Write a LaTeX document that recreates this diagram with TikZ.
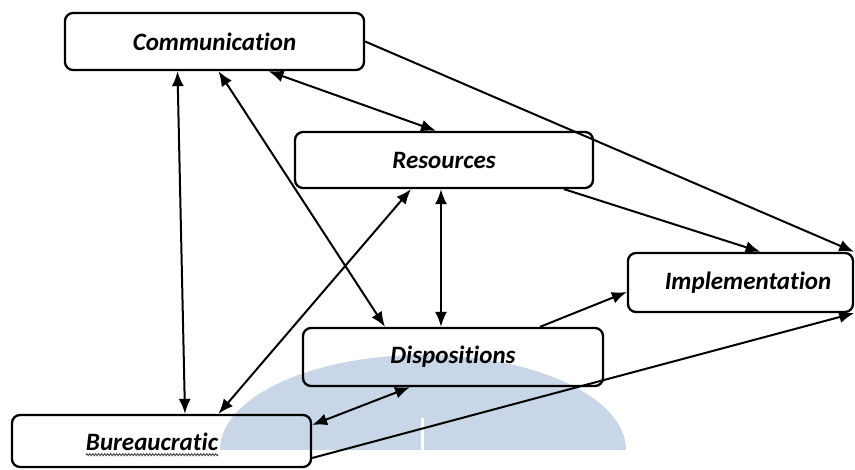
\documentclass[tikz,border=0pt]{standalone}
\usepackage{fontspec}
\setmainfont[Ligatures=NoCommon]{Carlito}
\usetikzlibrary{arrows.meta,decorations.pathmorphing}
\definecolor{wmblue}{RGB}{201,214,231}
\begin{document}
\begin{tikzpicture}[x=1pt,y=-1pt,
  >={Latex[length=15pt,width=12pt]},
  box/.style={draw,line width=2.3pt,rounded corners=8pt,inner sep=0pt,
    font=\fontsize{25}{30}\selectfont\bfseries\itshape},
  lbl/.style={inner sep=0pt,font=\fontsize{25}{30}\selectfont\bfseries\itshape},
  conn/.style={line width=2pt},
  wm/.style={fill=wmblue}]
\useasboundingbox (0,0) rectangle (855,470);
% watermark
\fill[wm] (220,450) arc[start angle=180,end angle=360,x radius=203,y radius=95] -- cycle;
\fill[white] (420.5,418) rectangle (423.5,451);
% boxes
\node[box,minimum width=299pt,minimum height=57pt] (comm) at (214.5,41.5) {Communication};
\node[box,minimum width=298pt,minimum height=56pt] (res) at (444,160) {Resources};
\node[box,minimum width=225pt,minimum height=59pt] (impl) at (740.5,282.5) {\hspace*{15pt}Implementation};
\node[box,minimum width=300pt,minimum height=58pt] (disp) at (453,357) {Dispositions};
\node[box,minimum width=299pt,minimum height=52pt] (bur) at (161.5,441) {};
\node[lbl] (burtxt) at (152,442) {Bureaucratic};
\draw[decorate,decoration={snake,amplitude=1pt,segment length=3pt},line width=0.9pt,black!75]
  ([yshift=-4pt]burtxt.base west) -- ([yshift=-4pt]burtxt.base east);
% connectors
\draw[conn,<->] ([xshift=-37pt]comm.south) -- ([xshift=23.5pt]bur.north);
\draw[conn,<->] ([xshift=4pt]comm.south) -- ([xshift=-68pt]disp.north);
\draw[conn,<->] ([xshift=54pt]comm.south) -- ([xshift=-8pt]res.north);
\draw[conn,->] (comm.east) -- (impl.north east);
\draw[conn,->] ([xshift=120pt]res.south) -- ([xshift=20pt]impl.north);
\draw[conn,<->] ([xshift=-3pt]res.south) -- ([xshift=-12pt]disp.north);
\draw[conn,<->] ([xshift=-33pt]res.south) -- ([xshift=57pt]bur.north);
\draw[conn,->] ([xshift=87pt]disp.north) -- ([yshift=-9.5pt]impl.west);
\draw[conn,<->] ([xshift=-43pt]disp.south) -- ([yshift=16pt]bur.east);
\draw[conn,->] ([yshift=-17pt]bur.east) -- (impl.south east);
\end{tikzpicture}
\end{document}
